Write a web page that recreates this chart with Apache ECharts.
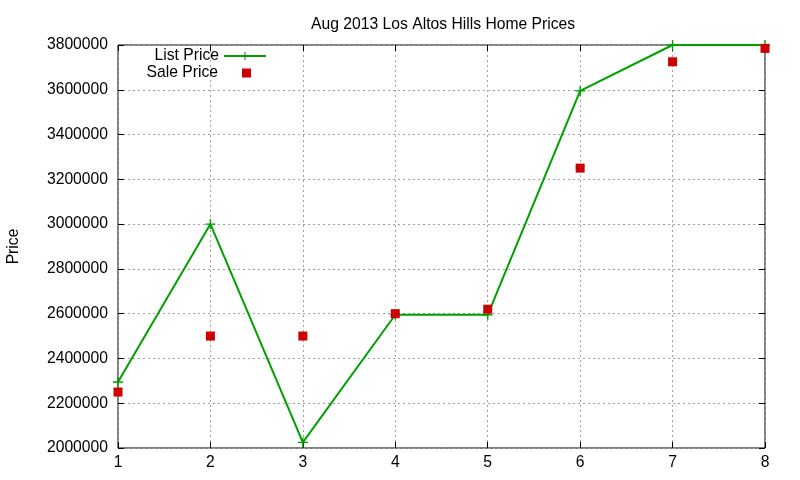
<!DOCTYPE html>
<html>
<head>
<meta charset="utf-8">
<script src="https://cdn.jsdelivr.net/npm/echarts@6/dist/echarts.min.js"></script>
<style>
  html, body { margin: 0; padding: 0; background: #fff; }
  #container { width: 800px; height: 480px; }
</style>
</head>
<body>
<div id="container"></div>
<script>
// data
var homes = [1, 2, 3, 4, 5, 6, 7, 8];
var listPrice = [2295000, 3000000, 2025000, 2595000, 2595000, 3595000, 3800000, 3800000];
var salePrice = [2250000, 2500000, 2500000, 2600000, 2620000, 3250000, 3725000, 3785000];

var plusIcon = 'path://M4.3,0H5.7V4.3H10V5.7H5.7V10H4.3V5.7H0V4.3H4.3Z';
var font = 'Liberation Sans, Arial, sans-serif';
var fs = 15.7;

function pairs(xs, ys) {
    var data = [];
    for (var i = 0; i < xs.length; i++) {
        data.push([xs[i], ys[i]]);
    }
    return data;
}

var myChart = echarts.init(document.getElementById('container'));
var gridLine = { show: true, lineStyle: { color: '#a0a0a0', type: [2, 3], width: 1 } };
var tick = { inside: true, length: 6, lineStyle: { color: '#000' } };

var option = {
    animation: false,
    title: {
        text: 'Aug 2013 Los Altos Hills Home Prices',
        left: 306, top: 12,
        textStyle: { fontFamily: font, fontSize: fs, fontWeight: 'normal', color: '#000' }
    },
    legend: [{
        data: ['List Price'],
        orient: 'vertical', align: 'right',
        right: 533, top: 48,
        itemWidth: 42, itemHeight: 10, padding: 0,
        textStyle: { fontFamily: font, fontSize: fs, color: '#000', padding: [0, 0, 0, 0] }
    }, {
        data: [{ name: 'Sale Price', icon: 'rect' }],
        orient: 'vertical', align: 'right',
        right: 549, top: 65,
        itemWidth: 9, itemHeight: 9, padding: 0,
        textStyle: { fontFamily: font, fontSize: fs, color: '#000', padding: [0, 19, 0, 0] }
    }],
    grid: {
        left: 118, right: 35, top: 45, bottom: 32,
        outerBoundsMode: 'none', containLabel: false,
        show: true, borderColor: '#000', borderWidth: 1
    },
    xAxis: [{
        type: 'value', min: 1, max: 8, interval: 1,
        axisLine: { show: false },
        axisTick: tick,
        axisLabel: { fontFamily: font, fontSize: fs, color: '#000', margin: 7 },
        splitLine: gridLine
    }, {
        type: 'value', min: 1, max: 8, interval: 1, position: 'top',
        axisLine: { show: false },
        axisTick: tick,
        axisLabel: { show: false },
        splitLine: { show: false }
    }],
    yAxis: [{
        type: 'value', min: 2000000, max: 3800000, interval: 200000,
        name: 'Price', nameLocation: 'middle', nameGap: 96,
        nameTextStyle: { fontFamily: font, fontSize: fs, color: '#000' },
        axisLine: { show: false },
        axisTick: tick,
        axisLabel: {
            fontFamily: font, fontSize: fs, color: '#000', margin: 10,
            formatter: function (v) { return String(v); }
        },
        splitLine: gridLine
    }, {
        type: 'value', min: 2000000, max: 3800000, interval: 200000, position: 'right',
        axisLine: { show: false },
        axisTick: tick,
        axisLabel: { show: false },
        splitLine: { show: false }
    }],
    series: [{
        name: 'List Price',
        type: 'line',
        data: pairs(homes, listPrice),
        symbol: plusIcon,
        symbolSize: 10,
        showAllSymbol: true,
        itemStyle: { color: '#00a000' },
        lineStyle: { color: '#00a000', width: 2 },
        z: 3
    }, {
        name: 'Sale Price',
        type: 'scatter',
        data: pairs(homes, salePrice),
        symbol: 'rect',
        symbolSize: 9,
        itemStyle: { color: '#cc0000', opacity: 1 },
        z: 4
    }]
};
myChart.setOption(option);
</script>
</body>
</html>
